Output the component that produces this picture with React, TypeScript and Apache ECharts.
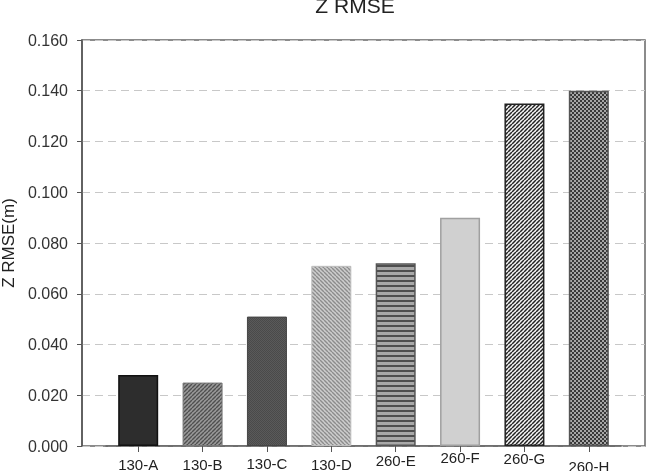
import React, { useEffect, useRef } from "react";
import * as echarts from "echarts";

const categories = ["130-A", "130-B", "130-C", "130-D", "260-E", "260-F", "260-G", "260-H"];
const values = [0.028, 0.025, 0.051, 0.071, 0.072, 0.09, 0.135, 0.14];
const yTicks = { min: 0, max: 0.16, interval: 0.02 };
const labelShift = [0, 0, 1, 0, 4, 7, 6, -2];

function makeCanvas(w: number, h: number, draw: (ctx: CanvasRenderingContext2D) => void) {
  const c = document.createElement("canvas");
  c.width = w;
  c.height = h;
  const ctx = c.getContext("2d") as CanvasRenderingContext2D;
  draw(ctx);
  return c;
}

function diag(bg: string, fg: string, size: number, lw: number, up: boolean) {
  const c = makeCanvas(size, size, (ctx) => {
    ctx.fillStyle = bg;
    ctx.fillRect(0, 0, size, size);
    ctx.strokeStyle = fg;
    ctx.lineWidth = lw;
    for (const k of [-size, 0, size]) {
      ctx.beginPath();
      if (up) {
        ctx.moveTo(k, size);
        ctx.lineTo(k + size, 0);
      } else {
        ctx.moveTo(k, 0);
        ctx.lineTo(k + size, size);
      }
      ctx.stroke();
    }
  });
  return { image: c, repeat: "repeat", imageWidth: size, imageHeight: size };
}

function hstripes(bg: string, fg: string) {
  const c = makeCanvas(2, 5, (ctx) => {
    ctx.fillStyle = bg;
    ctx.fillRect(0, 0, 2, 5);
    ctx.fillStyle = fg;
    ctx.fillRect(0, 0, 2, 2);
  });
  return { image: c, repeat: "repeat", imageWidth: 2, imageHeight: 5 };
}

function checker(a: string, b: string, cell: number) {
  const s = cell * 2;
  const c = makeCanvas(s, s, (ctx) => {
    ctx.fillStyle = a;
    ctx.fillRect(0, 0, s, s);
    ctx.fillStyle = b;
    ctx.fillRect(0, 0, cell, cell);
    ctx.fillRect(cell, cell, cell, cell);
  });
  return { image: c, repeat: "repeat", imageWidth: s, imageHeight: s };
}

export default function App() {
  const ref = useRef<HTMLDivElement>(null);
  useEffect(() => {
    if (!ref.current) return;
    const chart = echarts.init(ref.current, undefined, { renderer: "svg" });
    const styles: any[] = [
      { color: "#2d2d2d", borderColor: "#111", borderWidth: 1.5 },
      { color: diag("#9a9a9a", "#505050", 4, 1.4, true), borderColor: "#777", borderWidth: 1 },
      { color: checker("#5a5a5a", "#4a4a4a", 1), borderColor: "#444", borderWidth: 1 },
      { color: diag("#cdcdcd", "#8c8c8c", 4, 1.4, false), borderColor: "#bdbdbd", borderWidth: 1 },
      { color: hstripes("#a8a8a8", "#4e4e4e"), borderColor: "#555", borderWidth: 1.5 },
      { color: "#d0d0d0", borderColor: "#a0a0a0", borderWidth: 1.5 },
      { color: diag("#f4f4f4", "#222", 4, 1.5, true), borderColor: "#222", borderWidth: 1.5 },
      { color: checker("#a6a6a6", "#383838", 2), borderColor: "#555", borderWidth: 1.5 },
    ];
    const font = "Liberation Sans";
    chart.setOption({
      animation: false,
      graphic: [
        {
          type: "text",
          x: 355,
          y: 5,
          style: {
            text: "Z RMSE",
            textAlign: "center",
            textVerticalAlign: "middle",
            font: `21px "${font}"`,
            fill: "#222",
          },
        },
      ],
      grid: [
        { left: 82, right: 8, top: 40, bottom: 25, show: true, borderColor: "#666", borderWidth: 1.5, backgroundColor: "transparent", outerBoundsMode: "none", containLabel: false },
        { left: 106, right: 32, top: 40, bottom: 25, outerBoundsMode: "none", containLabel: false },
      ],
      xAxis: [
        { type: "value", gridIndex: 0, min: 0, max: 1, show: false },
        {
          type: "category",
          gridIndex: 1,
          data: categories.map((c, i) => ({ value: c, textStyle: { padding: [7 - labelShift[i], 0, 0, 0] } })),
          axisLine: { show: true, lineStyle: { color: "#666", width: 1.5 } },
          axisTick: { show: true, alignWithLabel: true, length: 6, lineStyle: { color: "#555", width: 1 } },
          axisLabel: { margin: 4, fontFamily: font, fontSize: 15, color: "#222" },
          splitLine: { show: false },
        },
      ],
      yAxis: [
        {
          type: "value",
          gridIndex: 0,
          min: yTicks.min,
          max: yTicks.max,
          interval: yTicks.interval,
          name: "Z RMSE(m)",
          nameLocation: "middle",
          nameGap: 65,
          nameTextStyle: { fontFamily: font, fontSize: 17, color: "#222" },
          axisLine: { show: true, lineStyle: { color: "#555", width: 1.5 } },
          axisTick: { show: true, length: 5, lineStyle: { color: "#555" } },
          axisLabel: { margin: 14, fontFamily: font, fontSize: 16, color: "#333", formatter: (v: number) => v.toFixed(3) },
          splitLine: { show: true, lineStyle: { color: "#c8c8c8", type: [8, 5], width: 1.2 } },
        },
        { type: "value", gridIndex: 1, min: yTicks.min, max: yTicks.max, show: false },
      ],
      series: [
        {
          type: "bar",
          xAxisIndex: 1,
          yAxisIndex: 1,
          barWidth: 40,
          data: values.map((v, i) => ({ value: v, itemStyle: styles[i] })),
        },
      ],
    });
    return () => chart.dispose();
  }, []);
  return <div ref={ref} style={{ position: "fixed", left: 0, top: 0, width: 653, height: 471 }} />;
}
